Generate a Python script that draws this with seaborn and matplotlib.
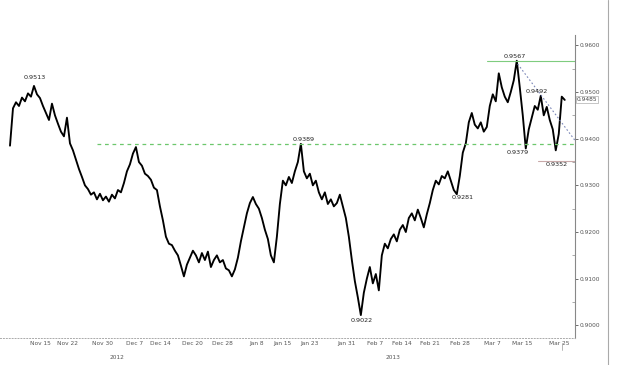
import numpy as np
import pandas as pd
import seaborn as sns
import matplotlib.pyplot as plt
from matplotlib.lines import Line2D

# ---- data ----
prices = [
    0.9385, 0.9465, 0.9478, 0.9470, 0.9488, 0.9480, 0.9497, 0.9490, 0.9513, 0.9495,
    0.9487, 0.9470, 0.9455, 0.9440, 0.9475, 0.9450, 0.9432, 0.9415, 0.9405, 0.9445,
    0.9390, 0.9375, 0.9355, 0.9335, 0.9318, 0.9300, 0.9292, 0.9280, 0.9285, 0.9270,
    0.9282, 0.9268, 0.9276, 0.9265, 0.9280, 0.9272, 0.9290, 0.9285, 0.9305, 0.9330,
    0.9345, 0.9368, 0.9382, 0.9350, 0.9342, 0.9325, 0.9320, 0.9312, 0.9295, 0.9290,
    0.9255, 0.9225, 0.9190, 0.9175, 0.9172, 0.9160, 0.9150, 0.9128, 0.9105, 0.9130,
    0.9145, 0.9160, 0.9150, 0.9135, 0.9155, 0.9140, 0.9158, 0.9125, 0.9140, 0.9150,
    0.9135, 0.9140, 0.9122, 0.9118, 0.9105, 0.9120, 0.9145, 0.9180, 0.9210, 0.9240,
    0.9262, 0.9275, 0.9260, 0.9250, 0.9230, 0.9205, 0.9185, 0.9150, 0.9135, 0.9190,
    0.9260, 0.9310, 0.9300, 0.9318, 0.9305, 0.9330, 0.9350, 0.9389, 0.9330, 0.9315,
    0.9325, 0.9300, 0.9310, 0.9285, 0.9270, 0.9285, 0.9260, 0.9270, 0.9255, 0.9262,
    0.9280, 0.9255, 0.9230, 0.9190, 0.9140, 0.9095, 0.9060, 0.9022, 0.9070, 0.9100,
    0.9125, 0.9090, 0.9110, 0.9075, 0.9150, 0.9175, 0.9165, 0.9185, 0.9195, 0.9180,
    0.9205, 0.9215, 0.9200, 0.9230, 0.9240, 0.9225, 0.9248, 0.9230, 0.9210, 0.9238,
    0.9262, 0.9290, 0.9310, 0.9302, 0.9320, 0.9315, 0.9330, 0.9310, 0.9290, 0.9281,
    0.9320, 0.9370, 0.9390, 0.9435, 0.9455, 0.9430, 0.9422, 0.9435, 0.9415, 0.9425,
    0.9470, 0.9495, 0.9480, 0.9540, 0.9510, 0.9490, 0.9478, 0.9500, 0.9525, 0.9567,
    0.9510, 0.9450, 0.9379, 0.9420, 0.9445, 0.9470, 0.9462, 0.9492, 0.9450, 0.9468,
    0.9440, 0.9420, 0.9375, 0.9410, 0.9490, 0.9483,
]
x_labels = ["Nov 15", "Nov 22", "Nov 30", "Dec 7", "Dec 14", "Dec 20", "Dec 28",
            "Jan 8", "Jan 15", "Jan 23", "Jan 31", "Feb 7", "Feb 14", "Feb 21",
            "Feb 28", "Mar 7", "Mar 15", "Mar 25"]
x_label_bars = [10, 19.3, 31, 41.7, 50, 61, 70.7, 82.3, 91, 100, 112.3, 121.7,
                130.7, 140, 150, 161, 170.7, 183.3]
year_labels = ["2012", "2013"]
year_bars = [35.7, 127.7]
y_ticks = [0.90, 0.91, 0.92, 0.93, 0.94, 0.95, 0.96]
levels = {"0.9513": (8.3, 0.9530), "0.9389": (98, 0.9398), "0.9022": (117.3, 0.9010),
          "0.9281": (151, 0.9273), "0.9567": (168.3, 0.9576), "0.9379": (169.3, 0.9371),
          "0.9492": (175.7, 0.9500), "0.9352": (182.3, 0.9344)}
last_price = "0.9485"

df = pd.DataFrame({"bar": np.arange(len(prices)), "price": prices})

sns.set_style("white")
plt.rcParams['font.family'] = ['DejaVu Sans']

fig = plt.figure(figsize=(6.2, 3.65), dpi=100)
ax = fig.add_axes([0.0, 0.074, 0.927, 0.830])

sns.lineplot(data=df, x="bar", y="price", ax=ax, color="black", lw=1.35)

xmin, xmax = -3.33, 188.33
ax.set_xlim(xmin, xmax)
ax.set_ylim(0.8973, 0.9622)

# support / resistance lines
ax.plot([29, xmax], [0.9389, 0.9389], color="#6cc76c", lw=0.9, ls=(0, (3, 3)))
ax.plot([159, xmax], [0.9567, 0.9567], color="#7fcc7f", lw=0.8)
ax.plot([176, xmax], [0.9352, 0.9352], color="#c9a9a9", lw=0.8)
ax.plot([169.3, xmax], [0.9560, 0.9397], color="#7a86b8", lw=0.8, ls=(0, (1.5, 2)))

for txt, (bx, by) in levels.items():
    ax.text(bx, by, txt, fontsize=4.6, ha="center", va="center", color="#222222")

# axes styling
ax.yaxis.tick_right()
ax.set_yticks(y_ticks)
ax.set_yticklabels([f"{v:.4f}" for v in y_ticks])
ax.set_yticks([v + 0.005 for v in y_ticks[:-1]], minor=True)
ax.tick_params(axis="y", which="major", direction="out", length=2, width=0.6,
               labelsize=4.2, colors="#555555", pad=1.5)
ax.tick_params(axis="y", which="minor", direction="in", length=2, width=0.5, colors="#888888")

ax.set_xticks(x_label_bars)
ax.set_xticklabels(x_labels)
ax.set_xticks(np.arange(0, 188, 3.4), minor=True)
ax.tick_params(axis="x", which="major", direction="in", length=2, width=0.5,
               labelsize=4.2, colors="#555555", pad=2)
ax.tick_params(axis="x", which="minor", direction="in", length=1.5, width=0.4, colors="#999999")
for b, t in zip(year_bars, year_labels):
    ax.text(b, -0.055, t, transform=ax.get_xaxis_transform(), fontsize=4.2,
            ha="center", va="top", color="#555555")

for s in ["top", "left"]:
    ax.spines[s].set_visible(False)
ax.spines["right"].set_color("#888888")
ax.spines["right"].set_linewidth(0.8)
ax.spines["bottom"].set_color("#aaaaaa")
ax.spines["bottom"].set_linewidth(0.7)
ax.spines["bottom"].set_linestyle((0, (1, 2)))
ax.set_xlabel("")
ax.set_ylabel("")
ax.grid(False)

# last price tag
ax.text(1.003, 0.9484, last_price, transform=ax.get_yaxis_transform(), fontsize=4.2,
        ha="left", va="center", color="#444444",
        bbox=dict(boxstyle="square,pad=0.15", fc="white", ec="#999999", lw=0.4))

# outer frame line on the right and current-bar marker
fig.add_artist(Line2D([608 / 620, 608 / 620], [0, 1], color="#aaaaaa", lw=0.8))
fig.add_artist(Line2D([562 / 620, 562 / 620], [1 - 350 / 365, 1 - 343 / 365],
                      color="#aaaaaa", lw=0.6))

fig.savefig("out.png", dpi=100)
